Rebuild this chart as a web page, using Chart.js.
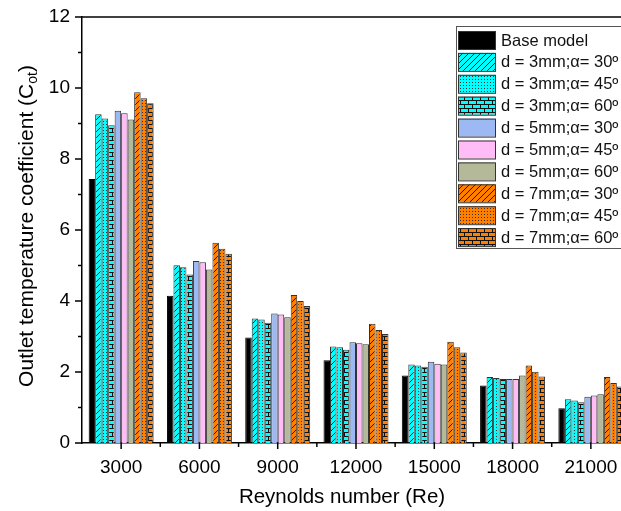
<!DOCTYPE html>
<html>
<head>
<meta charset="utf-8">
<script src="https://cdn.jsdelivr.net/npm/chart.js@4"></script>
<style>
  html, body { margin: 0; padding: 0; background: #fff; overflow: hidden; }
  #wrap { width: 640px; height: 511px; }
</style>
</head>
<body>
<div id="wrap"><canvas id="chart" width="640" height="511"></canvas></div>
<script>
// Data
const reynolds = ["3000", "6000", "9000", "12000", "15000", "18000", "21000"];
const seriesNames = [
  "Base model",
  "d = 3mm;\u03b1= 30\u00ba", "d = 3mm;\u03b1= 45\u00ba", "d = 3mm;\u03b1= 60\u00ba",
  "d = 5mm;\u03b1= 30\u00ba", "d = 5mm;\u03b1= 45\u00ba", "d = 5mm;\u03b1= 60\u00ba",
  "d = 7mm;\u03b1= 30\u00ba", "d = 7mm;\u03b1= 45\u00ba", "d = 7mm;\u03b1= 60\u00ba"
];
const baseModel = [7.44, 4.15, 2.97, 2.33, 1.90, 1.62, 0.98];
const d3a30 = [9.26, 5.01, 3.51, 2.72, 2.21, 1.86, 1.23];
const d3a45 = [9.14, 4.95, 3.48, 2.70, 2.18, 1.83, 1.20];
const d3a60 = [8.95, 4.75, 3.39, 2.63, 2.15, 1.80, 1.15];
const d5a30 = [9.36, 5.13, 3.65, 2.84, 2.29, 1.80, 1.30];
const d5a45 = [9.29, 5.09, 3.62, 2.81, 2.23, 1.80, 1.34];
const d5a60 = [9.11, 4.89, 3.54, 2.78, 2.21, 1.90, 1.37];
const d7a30 = [9.88, 5.64, 4.17, 3.36, 2.85, 2.18, 1.86];
const d7a45 = [9.71, 5.47, 4.00, 3.18, 2.70, 2.01, 1.69];
const d7a60 = [9.57, 5.33, 3.86, 3.07, 2.55, 1.87, 1.59];
const yTicks = [0, 2, 4, 6, 8, 10, 12];

const CYAN = "#00ffff";
const ORANGE = "#ff8000";
const FONT = "'Liberation Sans', Arial, sans-serif";

// Fill patterns
function makePattern(bg, kind) {
  const c = document.createElement("canvas");
  const ctx = c.getContext("2d");
  if (kind === "hatch") {
    c.width = 6; c.height = 6;
    ctx.fillStyle = bg; ctx.fillRect(0, 0, 6, 6);
    ctx.strokeStyle = "#111"; ctx.lineWidth = 0.9;
    ctx.beginPath();
    ctx.moveTo(0, 6); ctx.lineTo(6, 0);
    ctx.moveTo(-1, 1); ctx.lineTo(1, -1);
    ctx.moveTo(5, 7); ctx.lineTo(7, 5);
    ctx.stroke();
  } else if (kind === "dots") {
    c.width = 3; c.height = 3;
    ctx.fillStyle = bg; ctx.fillRect(0, 0, 3, 3);
    ctx.fillStyle = "#333";
    ctx.fillRect(1, 1, 1, 1);
  } else if (kind === "brick") {
    c.width = 8; c.height = 8;
    ctx.fillStyle = bg; ctx.fillRect(0, 0, 8, 8);
    ctx.fillStyle = "#111";
    ctx.fillRect(0, 0, 8, 1);
    ctx.fillRect(0, 4, 8, 1);
    ctx.fillRect(0, 0, 1, 4);
    ctx.fillRect(4, 4, 1, 4);
  }
  return document.createElement("canvas").getContext("2d").createPattern(c, "repeat");
}

const fills = [
  "#000000",
  makePattern(CYAN, "hatch"), makePattern(CYAN, "dots"), makePattern(CYAN, "brick"),
  "#9db9f3", "#ffbcf6", "#b4b999",
  makePattern(ORANGE, "hatch"), makePattern(ORANGE, "dots"), makePattern(ORANGE, "brick")
];
const seriesData = [baseModel, d3a30, d3a45, d3a60, d5a30, d5a45, d5a60, d7a30, d7a45, d7a60];

const datasets = seriesData.map((vals, i) => ({
  label: seriesNames[i],
  data: vals,
  backgroundColor: fills[i],
  borderColor: i === 0 ? "#000" : "#333",
  borderWidth: 1,
  barPercentage: 1.0,
  categoryPercentage: 0.83
}));

// Axis decorations, titles and legend
const decor = {
  id: "decor",
  afterDraw(chart) {
    const ctx = chart.ctx;
    const a = chart.chartArea;
    const xs = chart.scales.x, ys = chart.scales.y;
    ctx.save();
    ctx.strokeStyle = "#000";
    ctx.lineWidth = 1.5;
    // top frame line
    ctx.beginPath();
    ctx.moveTo(a.left, a.top); ctx.lineTo(a.right, a.top);
    ctx.stroke();
    // y ticks (major at even, minor at odd)
    ctx.beginPath();
    for (let v = 0; v <= 12; v++) {
      const py = ys.getPixelForValue(v);
      const len = v % 2 === 0 ? 7 : 4;
      ctx.moveTo(a.left, py); ctx.lineTo(a.left - len, py);
    }
    // x ticks
    const n = reynolds.length;
    const half = (xs.getPixelForTick(1) - xs.getPixelForTick(0)) / 2;
    for (let i = 0; i < n; i++) {
      const px = xs.getPixelForTick(i);
      ctx.moveTo(px, a.bottom); ctx.lineTo(px, a.bottom + 6);
      ctx.moveTo(px + half, a.bottom); ctx.lineTo(px + half, a.bottom + 4);
    }
    ctx.stroke();

    // axis titles
    ctx.fillStyle = "#000";
    ctx.font = "20.5px " + FONT;
    ctx.textBaseline = "middle";
    ctx.textAlign = "center";
    ctx.fillText("Reynolds number (Re)", 342, 497);

    ctx.save();
    ctx.translate(27, 226);
    ctx.rotate(-Math.PI / 2);
    const main = "Outlet temperature coefficient (C";
    const sub = "ot";
    const close = ")";
    ctx.font = "21px " + FONT;
    const w1 = ctx.measureText(main).width;
    const w3 = ctx.measureText(close).width;
    ctx.font = "14px " + FONT;
    const w2 = ctx.measureText(sub).width;
    const x0 = -(w1 + w2 + w3) / 2;
    ctx.textAlign = "left";
    ctx.font = "21px " + FONT;
    ctx.fillText(main, x0, 0);
    ctx.font = "14px " + FONT;
    ctx.fillText(sub, x0 + w1, 6);
    ctx.font = "21px " + FONT;
    ctx.fillText(close, x0 + w1 + w2, 0);
    ctx.restore();

    // legend
    const lx = 456, ly = 26, lh = 222;
    ctx.fillStyle = "#fff";
    ctx.fillRect(lx, ly, 200, lh);
    ctx.strokeStyle = "#555";
    ctx.lineWidth = 1;
    ctx.strokeRect(lx + 0.5, ly + 0.5, 200, lh);
    ctx.font = "16.5px " + FONT;
    ctx.textAlign = "left";
    ctx.textBaseline = "middle";
    chart.data.datasets.forEach((ds, i) => {
      const sy = 31 + i * 21.9;
      ctx.fillStyle = ds.backgroundColor;
      ctx.fillRect(458, sy, 37, 18);
      ctx.strokeStyle = "#333";
      ctx.strokeRect(458.5, sy + 0.5, 37, 18);
      ctx.fillStyle = "#111";
      ctx.fillText(ds.label, 501, sy + 10);
    });
    ctx.restore();
  }
};

new Chart(document.getElementById("chart"), {
  type: "bar",
  data: { labels: reynolds, datasets },
  options: {
    responsive: false,
    animation: false,
    layout: { padding: { top: 17, right: 10, left: 0, bottom: 0 } },
    plugins: { legend: { display: false }, tooltip: { enabled: false } },
    scales: {
      x: {
        grid: { display: false, drawTicks: false },
        border: { display: true, color: "#000", width: 1.5 },
        ticks: { color: "#000", font: { family: FONT, size: 19 }, padding: 13, maxRotation: 0 },
        afterFit: s => { s.height = 68; s.paddingLeft = 0; s.paddingRight = 0; }
      },
      y: {
        min: 0, max: 12,
        afterBuildTicks: s => { s.ticks = yTicks.map(v => ({ value: v })); },
        grid: { display: false, drawTicks: false },
        border: { display: true, color: "#000", width: 1.5 },
        ticks: { color: "#000", font: { family: FONT, size: 19 }, padding: 12 },
        afterFit: s => { s.width = 82; s.paddingTop = 0; s.paddingBottom = 0; }
      }
    }
  },
  plugins: [decor]
});
</script>
</body>
</html>
